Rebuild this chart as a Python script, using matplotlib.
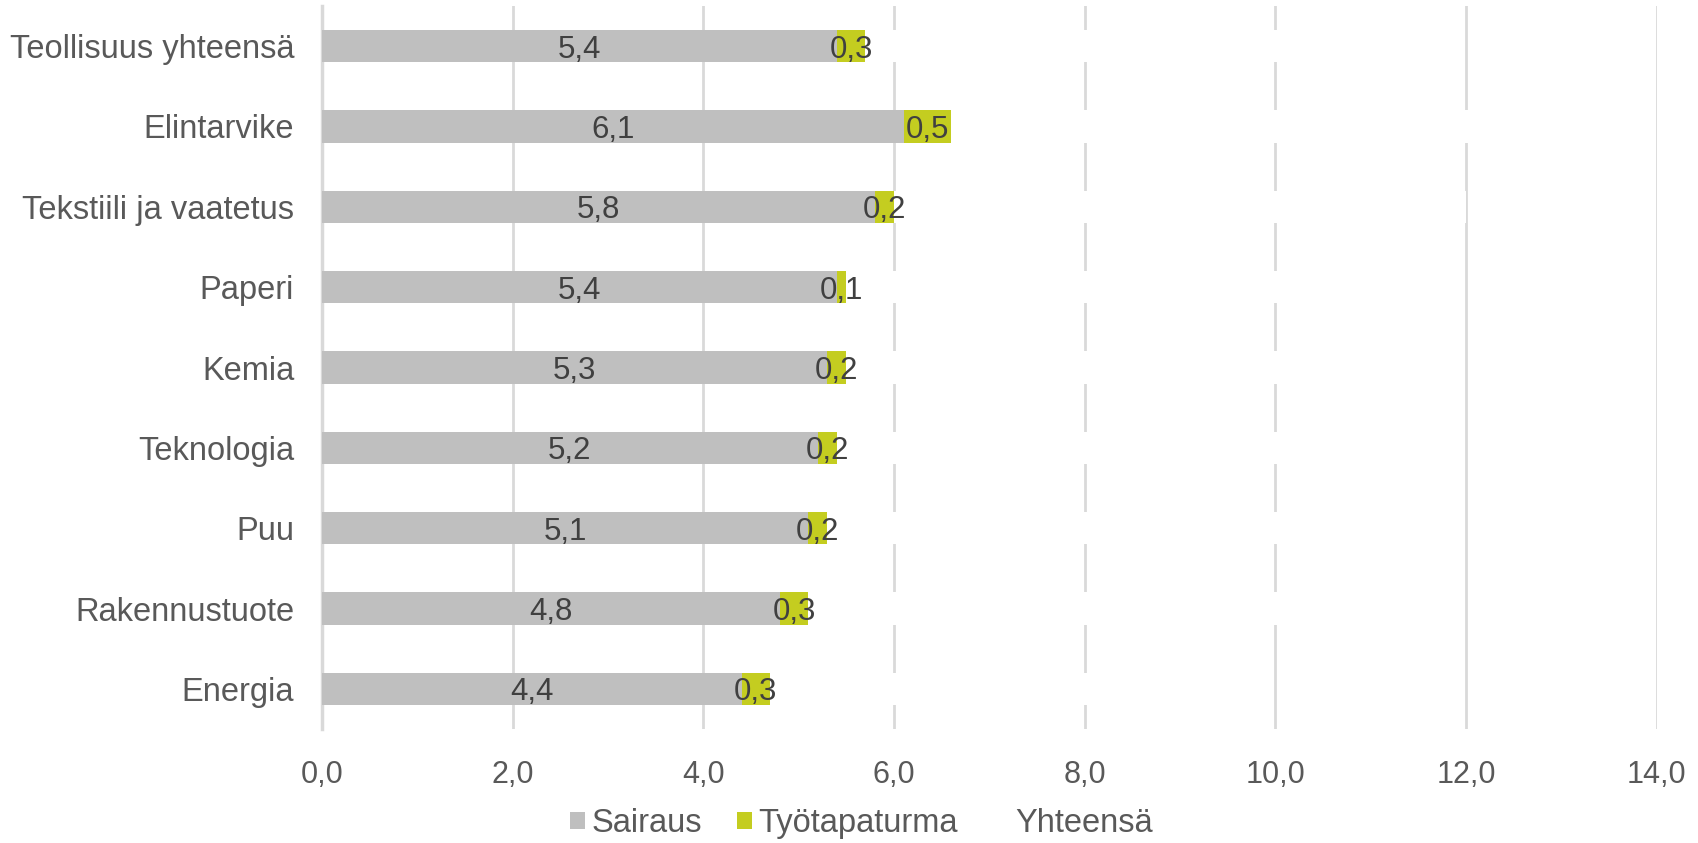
import matplotlib
matplotlib.use("Agg")
import matplotlib.pyplot as plt
from matplotlib.patches import Patch

plt.rcParams['font.family'] = ['Liberation Sans', 'DejaVu Sans']

categories = ["Teollisuus yhteensä", "Elintarvike", "Tekstiili ja vaatetus", "Paperi",
              "Kemia", "Teknologia", "Puu", "Rakennustuote", "Energia"]
sairaus = [5.4, 6.1, 5.8, 5.4, 5.3, 5.2, 5.1, 4.8, 4.4]
tyotapaturma = [0.3, 0.5, 0.2, 0.1, 0.2, 0.2, 0.2, 0.3, 0.3]
yhteensa = [5.7, 6.6, 6.0, 5.5, 5.5, 5.4, 5.3, 5.1, 4.7]
xticks = [0, 2, 4, 6, 8, 10, 12, 14]

GRAY = "#BFBFBF"
GREEN = "#C4CD20"
TXT = "#404040"
AX = "#595959"
GRID = "#D9D9D9"

fig = plt.figure(figsize=(16.99, 8.43), dpi=100)
ax = fig.add_axes([0.1895, 0.1352, 0.7857, 0.8577])

pos = list(range(len(categories)))
h = 0.4
b1 = ax.barh(pos, sairaus, height=h, color=GRAY, zorder=2)
b2 = ax.barh(pos, tyotapaturma, left=sairaus, height=h, color=GREEN, zorder=2)
left3 = [a + b for a, b in zip(sairaus, tyotapaturma)]
b3 = ax.barh(pos, yhteensa, left=left3, height=h, color="white", zorder=2)

fmt = lambda v: f"{v:.1f}".replace(".", ",")
lab1 = ax.bar_label(b1, labels=[fmt(v) for v in sairaus], label_type='center',
                    fontsize=22.5, color=TXT, zorder=3)
lab2 = ax.bar_label(b2, labels=[fmt(v) for v in tyotapaturma], label_type='center',
                    fontsize=22.5, color=TXT, zorder=3)
for t in list(lab1) + list(lab2):
    t.set_va('center_baseline')

ax.set_xlim(0, 14)
ax.set_ylim(len(categories) - 0.5, -0.5)
ax.set_xticks(xticks)
ax.set_xticklabels([fmt(v) for v in xticks], fontsize=22, color=AX)
ax.set_yticks(pos)
ax.set_yticklabels(categories, fontsize=23.5, color=AX)
ax.tick_params(axis='both', length=0)
ax.tick_params(axis='x', pad=22)
ax.tick_params(axis='y', pad=20)

ax.set_axisbelow(True)
ax.xaxis.grid(True, color=GRID, linewidth=2, zorder=0)
for s in ['top', 'right', 'bottom']:
    ax.spines[s].set_visible(False)
ax.spines['left'].set_color(GRID)
ax.spines['left'].set_linewidth(2.5)
ax.spines['left'].set_zorder(1)

handles = [Patch(facecolor=GRAY), Patch(facecolor=GREEN), Patch(facecolor="white")]
leg = fig.legend(handles, ["Sairaus", "Työtapaturma", "Yhteensä"], loc='center',
                 bbox_to_anchor=(0.507, 0.023), ncol=3, frameon=False, fontsize=23.5,
                 handlelength=0.45, handleheight=0.45, handletextpad=0.2, columnspacing=1.1)
for t in leg.get_texts():
    t.set_color(AX)

fig.savefig("out.png", dpi=100)
